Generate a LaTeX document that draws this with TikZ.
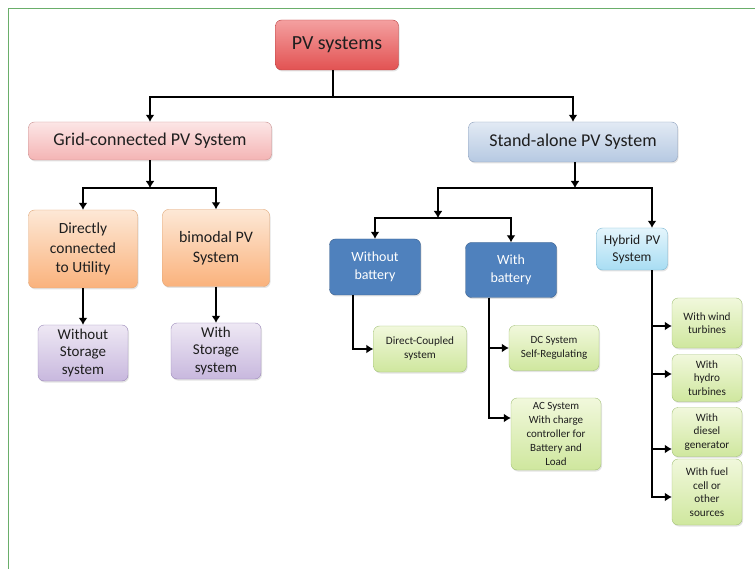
\documentclass[tikz,border=0pt]{standalone}
\usepackage{fontspec}
\setmainfont{Carlito}
\usetikzlibrary{arrows.meta,shadows,calc}
\definecolor{frameg}{HTML}{6AAE6A}
\definecolor{txt}{HTML}{1E1E1E}
\definecolor{redT}{HTML}{F4A0A0}\definecolor{redB}{HTML}{E25252}\definecolor{redD}{HTML}{B84040}
\definecolor{pinkT}{HTML}{FCE6E6}\definecolor{pinkB}{HTML}{F4B4B4}\definecolor{pinkD}{HTML}{C99090}
\definecolor{gbT}{HTML}{E2EAF4}\definecolor{gbB}{HTML}{B6C9E2}\definecolor{gbD}{HTML}{8C9FBC}
\definecolor{orT}{HTML}{FDE8D6}\definecolor{orB}{HTML}{FAB27C}\definecolor{orD}{HTML}{E0A676}
\definecolor{puT}{HTML}{EEE8F4}\definecolor{puB}{HTML}{C8B8DE}\definecolor{puD}{HTML}{9A88B8}
\definecolor{blF}{HTML}{4F81BD}\definecolor{blD}{HTML}{385D8A}
\definecolor{grT}{HTML}{F1F8DC}\definecolor{grB}{HTML}{CFE79E}\definecolor{grD}{HTML}{A4C27A}
\definecolor{cyT}{HTML}{E4F5FC}\definecolor{cyB}{HTML}{A8DDF3}\definecolor{cyD}{HTML}{7AB6D2}
\tikzset{
  bx/.style={rounded corners=6pt, draw, align=center, inner sep=1pt, text=txt,
    drop shadow={opacity=0.22, shadow xshift=1pt, shadow yshift=-1.5pt}},
  redbox/.style={bx, top color=redT, bottom color=redB, draw=redD},
  pinkbox/.style={bx, top color=pinkT, bottom color=pinkB, draw=pinkD},
  greybox/.style={bx, top color=gbT, bottom color=gbB, draw=gbD},
  orangebox/.style={bx, top color=orT, bottom color=orB, draw=orD},
  purplebox/.style={bx, top color=puT, bottom color=puB, draw=puD},
  bluebox/.style={bx, fill=blF, draw=blD, text=white},
  greenbox/.style={bx, top color=grT, bottom color=grB, draw=grD},
  cyanbox/.style={bx, top color=cyT, bottom color=cyB, draw=cyD},
  arr/.style={draw=black, line width=2.5pt, -{Latex[length=7pt,width=9pt]}},
  ln/.style={draw=black, line width=2.5pt},
}
\begin{document}
\begin{tikzpicture}[x=1pt,y=-1pt]
\useasboundingbox (0,0) rectangle (755,569);
\draw[frameg, line width=1pt] (8,569) -- (8,9) -- (755,9);

% top level
\node[redbox, minimum width=123, minimum height=50, font=\fontsize{20}{24}\selectfont] (pv) at (337,45) {PV systems};
\node[pinkbox, minimum width=243, minimum height=38, font=\fontsize{18}{22}\selectfont] (grid) at (150,141) {Grid-connected PV System};
\node[greybox, minimum width=209, minimum height=40, font=\fontsize{18}{22}\selectfont] (stand) at (573,142) {Stand-alone PV System};

% grid branch
\node[orangebox, minimum width=109, minimum height=78, font=\fontsize{15.5}{19.5}\selectfont] (direct) at (83,249) {Directly\\connected\\to Utility};
\node[orangebox, minimum width=107, minimum height=77, font=\fontsize{16}{19.5}\selectfont] (bimodal) at (216,248) {bimodal PV\\System};
\node[purplebox, minimum width=90, minimum height=56, font=\fontsize{15}{17.5}\selectfont] (wos) at (83,353) {Without\\Storage\\system};
\node[purplebox, minimum width=90, minimum height=56, font=\fontsize{15}{17.5}\selectfont] (ws) at (216,351) {With\\Storage\\system};

% stand-alone branch
\node[bluebox, minimum width=91, minimum height=56, font=\fontsize{14}{17.5}\selectfont] (wob) at (375,267) {Without\\battery};
\node[bluebox, minimum width=91, minimum height=55, font=\fontsize{14}{17.5}\selectfont] (wb) at (511,270) {With\\battery};
\node[cyanbox, minimum width=71, minimum height=42, font=\fontsize{13.5}{17}\selectfont] (hyb) at (632,249) {Hybrid\, PV\\System};

\node[greenbox, minimum width=93, minimum height=46, font=\fontsize{11.2}{14}\selectfont] (dcp) at (420,349) {Direct-Coupled\\system};
\node[greenbox, minimum width=90, minimum height=45, font=\fontsize{11}{14}\selectfont] (dc) at (554,348) {DC System\\Self-Regulating};
\node[greenbox, minimum width=90, minimum height=72, font=\fontsize{11}{13.8}\selectfont] (ac) at (556,434) {AC System\\With charge\\controller for\\Battery and\\Load};

\node[greenbox, minimum width=70, minimum height=50, font=\fontsize{11.2}{13.6}\selectfont] (wind) at (707,323) {With wind\\turbines};
\node[greenbox, minimum width=70, minimum height=47, font=\fontsize{11.2}{13.6}\selectfont] (hydro) at (707,378) {With\\hydro\\turbines};
\node[greenbox, minimum width=70, minimum height=49, font=\fontsize{11.2}{13.6}\selectfont] (diesel) at (707,432) {With\\diesel\\generator};
\node[greenbox, minimum width=70, minimum height=66, font=\fontsize{11.2}{13.6}\selectfont] (fuel) at (707,492) {With fuel\\cell or\\other\\sources};

% connectors
\coordinate (j1) at (333,97);
\draw[ln] (pv.south -| j1) -- (j1);
\draw[arr] (j1) -| (grid);
\draw[arr] (j1) -| (stand);

\coordinate (gbar) at (150,188);
\draw[arr] (grid.south) -- (gbar);
\draw[arr] (gbar) -| (direct);
\draw[arr] (gbar) -| (bimodal);
\draw[arr] (direct) -- (wos);
\draw[arr] (bimodal) -- (ws);

\coordinate (sbar) at (575,188);
\coordinate (bbar) at (438,218);
\draw[arr] (stand.south -| sbar) -- (sbar);
\draw[arr] (sbar) -| (bbar);
\draw[arr] (sbar) -| ([xshift=20pt]hyb.north);
\draw[arr] (bbar) -| (wob);
\draw[arr] (bbar) -| (wb);

\draw[arr] ([xshift=-22pt]wob.south) |- (dcp.west);
\draw[arr] ([xshift=-22pt]wb.south) |- (dc.west);
\draw[arr] ([xshift=-22pt]wb.south) |- ([yshift=16pt]ac.west);

\draw[arr] ([xshift=20pt]hyb.south) |- ([yshift=-3pt]wind.west);
\draw[arr] ([xshift=20pt]hyb.south) |- ([yshift=4pt]hydro.west);
\draw[arr] ([xshift=20pt]hyb.south) |- ([yshift=-17pt]diesel.west);
\draw[arr] ([xshift=20pt]hyb.south) |- ([yshift=-5pt]fuel.west);
\end{tikzpicture}
\end{document}
